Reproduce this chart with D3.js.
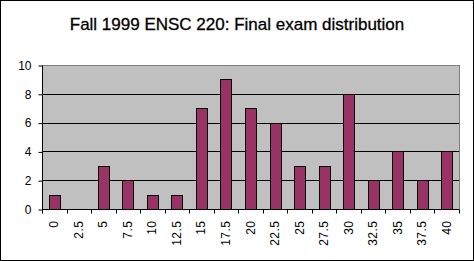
<!DOCTYPE html>
<html>
<head>
<meta charset="utf-8">
<script src="https://cdn.jsdelivr.net/npm/d3@7"></script>
<style>
  html, body { margin: 0; padding: 0; background: #fff; }
  svg { display: block; font-family: "Liberation Sans", Arial, sans-serif; }
</style>
</head>
<body>
<div id="chart"></div>
<script>
// Data
const categories = ['0', '2.5', '5', '7.5', '10', '12.5', '15', '17.5', '20', '22.5',
                    '25', '27.5', '30', '32.5', '35', '37.5', '40'];
const counts = [1, 0, 3, 2, 1, 1, 7, 9, 7, 6, 3, 3, 8, 2, 4, 2, 4];
const yTicks = [0, 2, 4, 6, 8, 10];
const title = 'Fall 1999 ENSC 220: Final exam distribution';

const width = 474;
const height = 261;
const plot = { left: 42, top: 65, right: 459, bottom: 209 };

const svg = d3.select('#chart').append('svg')
    .attr('width', width)
    .attr('height', height);

// Outer chart border
svg.append('rect')
    .attr('x', 0.5).attr('y', 0.5)
    .attr('width', width - 1).attr('height', height - 1)
    .style('fill', '#fff')
    .style('stroke', '#000');

// Title
svg.append('text')
    .attr('x', width / 2)
    .attr('y', 30)
    .attr('text-anchor', 'middle')
    .style('font-size', '17px')
    .style('stroke', '#000')
    .style('stroke-width', 0.3)
    .text(title);

const x = d3.scaleBand()
    .domain(categories)
    .range([plot.left, plot.right])
    .padding(0);

const y = d3.scaleLinear()
    .domain([0, 10])
    .range([plot.bottom, plot.top]);

const g = svg.append('g');

// Plot area background
g.append('rect')
    .attr('x', plot.left).attr('y', plot.top)
    .attr('width', plot.right - plot.left)
    .attr('height', plot.bottom - plot.top)
    .style('fill', '#c0c0c0')
    .style('stroke', '#808080')
    .style('shape-rendering', 'crispEdges');

// Gridlines
g.selectAll('.grid')
    .data(yTicks.filter(d => d > 0 && d < 10))
    .enter().append('line')
    .attr('x1', plot.left).attr('x2', plot.right)
    .attr('y1', d => Math.round(y(d)) + 0.5)
    .attr('y2', d => Math.round(y(d)) + 0.5)
    .style('stroke', '#000');

// Bars
const barW = x.bandwidth() * 0.45;
g.selectAll('.bar')
    .data(counts)
    .enter().append('rect')
    .attr('x', (d, i) => Math.round(x(categories[i]) + (x.bandwidth() - barW) / 2) + 0.5)
    .attr('y', d => Math.round(y(d)) + 0.5)
    .attr('width', Math.round(barW))
    .attr('height', d => Math.round(y(0)) - Math.round(y(d)))
    .style('fill', d => d > 0 ? '#993366' : 'none')
    .style('stroke', d => d > 0 ? '#000' : 'none');

// Y axis
const yAxis = d3.axisLeft(y)
    .tickValues(yTicks)
    .tickSize(4)
    .tickPadding(7);
const yg = svg.append('g')
    .attr('transform', `translate(${plot.left + 0.5},0.5)`)
    .call(yAxis);
yg.selectAll('text').style('font-size', '12px').style('fill', '#000');
yg.selectAll('line, path').style('stroke', '#000');
yg.select('.domain').attr('d', `M0,${plot.top}V${plot.bottom}`);

// X axis (ticks at category boundaries)
const xg = svg.append('g')
    .attr('transform', `translate(0,${plot.bottom + 0.5})`);
xg.append('line')
    .attr('x1', plot.left).attr('x2', plot.right)
    .style('stroke', '#000');
const bounds = categories.map(c => x(c)).concat([plot.right]);
xg.selectAll('.tick')
    .data(bounds)
    .enter().append('line')
    .attr('x1', d => Math.round(d) + 0.5).attr('x2', d => Math.round(d) + 0.5)
    .attr('y1', 0).attr('y2', 4)
    .style('stroke', '#000');
xg.selectAll('.lbl')
    .data(categories)
    .enter().append('text')
    .attr('transform', d => `translate(${x(d) + x.bandwidth() / 2 + 4},11) rotate(-90)`)
    .attr('text-anchor', 'end')
    .style('font-size', '12px')
    .style('letter-spacing', '0.5px')
    .text(d => d);
</script>
</body>
</html>
